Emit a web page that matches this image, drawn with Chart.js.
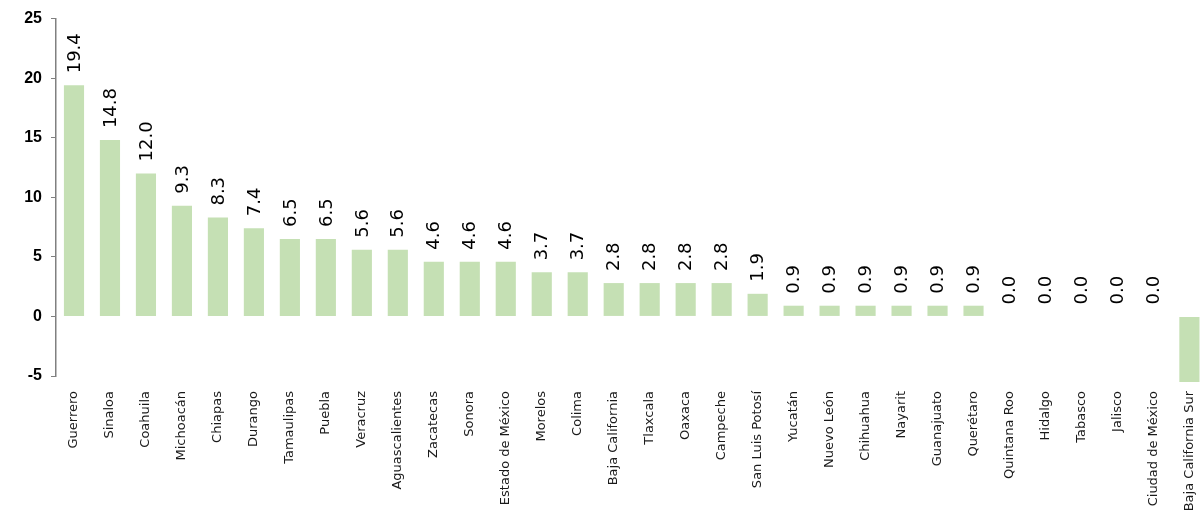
<!DOCTYPE html>
<html lang="es">
<head>
    <meta charset="UTF-8" />
    <title>Tasa por entidad</title>
    <script src="https://cdn.jsdelivr.net/npm/chart.js"></script>
    <style>
        html, body { margin: 0; padding: 0; background: #fff; overflow: hidden; }
        .grafico { position: relative; width: 1212px; height: 519px; }
    </style>
</head>
<body>
    <div class="grafico">
        <canvas id="graficoBarras"></canvas>
    </div>

    <script>
        const estados = [
            "Guerrero", "Sinaloa", "Coahuila", "Michoacán", "Chiapas", "Durango",
            "Tamaulipas", "Puebla", "Veracruz", "Aguascalientes", "Zacatecas", "Sonora",
            "Estado de México", "Morelos", "Colima", "Baja California", "Tlaxcala", "Oaxaca",
            "Campeche", "San Luis Potosí", "Yucatán", "Nuevo León", "Chihuahua", "Nayarit",
            "Guanajuato", "Querétaro", "Quintana Roo", "Hidalgo", "Tabasco", "Jalisco",
            "Ciudad de México", "Baja California Sur"
        ];
        const valores = [
            19.4, 14.8, 12.0, 9.3, 8.3, 7.4,
            6.5, 6.5, 5.6, 5.6, 4.6, 4.6,
            4.6, 3.7, 3.7, 2.8, 2.8, 2.8,
            2.8, 1.9, 0.9, 0.9, 0.9, 0.9,
            0.9, 0.9, 0.0, 0.0, 0.0, 0.0,
            0.0, -5.5
        ];
        const ticksY = [-5, 0, 5, 10, 15, 20, 25];

        const fonte = "'DejaVu Sans', sans-serif";

        // etiquetas de valor giradas encima de cada barra
        const etiquetas = {
            id: 'etiquetas',
            afterDatasetsDraw(chart) {
                const ctx = chart.ctx;
                const meta = chart.getDatasetMeta(0);
                ctx.save();
                ctx.fillStyle = '#000';
                ctx.font = '18px ' + fonte;
                meta.data.forEach((barra, i) => {
                    const v = valores[i];
                    if (v < 0) return;
                    ctx.save();
                    ctx.translate(barra.x, barra.y - 12);
                    ctx.rotate(-Math.PI / 2);
                    ctx.textAlign = 'left';
                    ctx.textBaseline = 'middle';
                    ctx.fillText(v.toFixed(1), 0, 1);
                    ctx.restore();
                });
                ctx.restore();
            }
        };

        const ctx = document.getElementById('graficoBarras').getContext('2d');
        new Chart(ctx, {
            type: 'bar',
            data: {
                labels: estados,
                datasets: [{
                    data: valores,
                    backgroundColor: '#c5e0b4',
                    borderWidth: 0,
                    barPercentage: 0.56,
                    categoryPercentage: 1,
                    clip: false
                }]
            },
            options: {
                responsive: true,
                maintainAspectRatio: false,
                animation: false,
                layout: { padding: { top: 14, right: 0, left: 0, bottom: 0 } },
                plugins: {
                    legend: { display: false },
                    tooltip: { enabled: false }
                },
                scales: {
                    x: {
                        grid: { display: false },
                        border: { display: false },
                        ticks: {
                            color: '#1a1a1a',
                            font: { family: fonte, size: 13 },
                            minRotation: 90,
                            maxRotation: 90,
                            autoSkip: false,
                            padding: 7
                        },
                        afterFit(scale) { scale.height = 143; }
                    },
                    y: {
                        min: -5,
                        max: 25,
                        afterBuildTicks(scale) {
                            scale.ticks = ticksY.map(v => ({ value: v }));
                        },
                        grid: {
                            drawOnChartArea: false,
                            drawTicks: true,
                            tickLength: 5,
                            color: '#808080'
                        },
                        border: { display: true, color: '#808080', width: 1.5 },
                        ticks: {
                            color: '#000',
                            font: { family: "'Liberation Sans', Arial, sans-serif", size: 16, weight: 'bold' },
                            padding: 9
                        },
                        afterFit(scale) { scale.width = 56; }
                    }
                }
            },
            plugins: [etiquetas]
        });
    </script>
</body>
</html>
